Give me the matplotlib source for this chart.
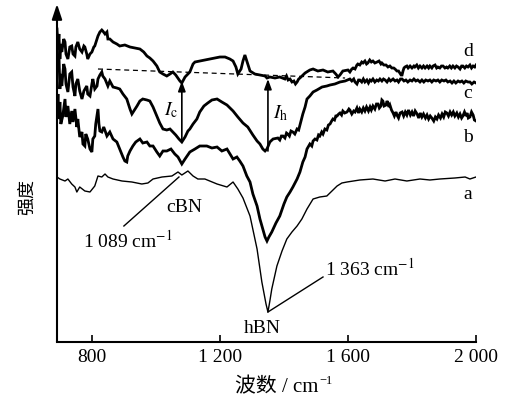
import matplotlib
matplotlib.use("Agg")
import matplotlib.pyplot as plt

plt.rcParams['mathtext.fontset'] = 'stix'
plt.rcParams['font.family'] = ['Liberation Serif', 'Noto Sans CJK SC', 'DejaVu Sans']

# (wavenumber cm-1, intensity arb. units)
a_pts = [(691,165),(700,163),(716,161),(725,163),(737,158),(747,155),(753,150),(762,155),(778,151),(794,150),
         (809,156),(819,166),(831,165),(841,168),(850,165),(866,163),(894,161),(925,160),(956,158),(975,159),
         (991,163),(1019,165),(1050,166),(1069,170),(1081,167),(1100,171),(1116,166),(1131,163),(1153,163),
         (1191,158),(1222,155),(1241,160),(1256,153),(1272,144),(1294,126),(1316,93),(1331,60),(1344,38),
         (1350,30),(1356,41),(1362,53),(1378,76),(1394,91),(1409,103),(1425,110),(1441,116),(1456,123),
         (1472,133),(1491,143),(1512,145),(1534,146),(1550,151),(1566,156),(1581,159),(1597,160),(1637,162),
         (1678,163),(1716,161),(1747,163),(1784,161),(1825,163),(1856,162),(1887,163),(1934,164),(1966,165),
         (1981,163),(2000,165)]

b_pts = [(691,228),(694,248),(697,223),(700,240),(703,218),(709,226),(716,243),(719,225),(725,236),(731,218),
         (737,231),(741,220),(747,233),(753,215),(756,223),(762,205),(769,210),(772,198),(778,196),(781,208),
         (787,203),(794,193),(800,190),(803,203),(809,206),(812,218),(819,233),(822,218),(825,211),(831,210),
         (837,215),(847,206),(856,210),(866,203),(878,200),(887,193),(897,185),(903,181),(909,180),(912,186),
         (919,191),(928,196),(937,200),(950,203),(959,199),(972,200),(981,196),(991,196),(1003,190),(1012,186),
         (1022,191),(1034,191),(1047,193),(1059,188),(1069,185),(1081,178),(1091,183),(1106,190),(1122,193),
         (1137,196),(1159,196),(1175,194),(1191,195),(1206,191),(1222,193),(1241,183),(1253,185),(1262,181),
         (1272,176),(1284,166),(1294,160),(1303,148),(1316,136),(1325,123),(1334,113),(1341,105),(1347,101),
         (1353,105),(1362,110),(1375,119),(1387,126),(1400,138),(1409,145),(1419,150),(1428,155),(1441,163),
         (1450,170),(1459,180),(1466,185),(1472,193),
         (1481,198),(1487,196),(1491,201),(1497,203),(1503,202),(1508,207),(1512,206),(1518,210),(1522,208),
         (1528,213),(1534,212),(1539,217),(1544,218),(1549,221),(1553,223),(1558,222),(1562,226),(1566,226),
         (1571,228),(1575,229),(1580,227),(1584,231),(1590,229),(1597,230),
         (1603,233),(1606,232),(1612,228),(1618,231),(1622,230),(1628,234),(1633,229),(1637,233),(1643,230),
         (1648,234),(1653,231),(1658,235),(1664,231),(1669,235),(1673,232),(1678,236),(1684,233),(1689,238),
         (1694,238),(1698,234),(1703,236),(1706,242),(1709,241),(1713,236),(1719,237),(1722,241),(1725,239),
         (1728,235),(1731,237),(1736,232),(1741,229),(1745,226),(1750,230),(1753,227),(1758,224),(1763,229),
         (1769,230),(1774,226),(1779,230),(1784,227),(1789,232),(1795,227),(1800,230),(1805,226),(1810,231),
         (1816,228),(1821,224),(1826,229),(1831,225),(1836,228),(1842,224),(1847,227),(1852,223),(1857,226),
         (1862,224),(1868,221),(1873,225),(1878,223),(1883,227),(1889,224),(1894,228),(1899,225),(1904,230),
         (1909,229),(1914,226),(1919,230),(1924,227),(1929,230),(1934,226),(1940,229),(1945,225),(1950,228),
         (1955,224),(1959,226),(1964,230),(1969,226),(1972,229),(1976,224),(1981,225),(1986,230),(1991,227),
         (1995,222),(2000,221)]

c_pts = [(691,298),(694,273),(697,288),(700,253),(703,268),(706,256),(712,278),(716,273),(719,258),(725,250),
         (731,268),(737,270),(741,255),(747,246),(750,258),(756,263),(762,251),(769,243),(775,251),(784,256),
         (787,248),(794,246),(800,258),(803,263),(809,253),(816,256),(819,263),(825,267),(831,270),(834,266),
         (841,263),(850,256),(856,261),(866,255),(878,254),(887,253),(897,248),(909,243),(919,233),(925,228),
         (931,231),(941,236),(950,241),(959,243),(972,242),(981,241),(991,235),(1003,226),(1012,219),(1022,213),
         (1034,212),(1044,213),(1053,210),(1062,207),(1072,203),(1081,200),(1091,205),(1100,211),(1106,213),
         (1116,218),(1128,223),(1137,230),(1150,236),(1162,239),(1175,242),(1191,243),(1206,240),(1222,237),
         (1241,231),(1256,225),(1272,219),(1287,215),(1303,207),(1316,201),(1325,198),(1334,193),(1341,191),
         (1347,193),(1356,200),(1366,203),
         (1381,204),(1387,202),(1392,206),(1397,206),(1403,204),(1408,209),(1412,208),(1417,206),(1422,211),
         (1428,210),(1434,208),(1441,213),(1446,212),(1450,217),
         (1459,228),(1466,235),(1472,243),(1481,246),(1491,250),(1503,252),(1519,255),(1534,256),(1544,257),
         (1559,258),(1575,260),(1591,261),
         (1606,263),(1612,261),(1618,263),(1622,260),(1628,258),(1633,262),(1637,262),(1643,260),(1648,263),
         (1653,260),(1659,262),(1664,259),(1669,262),(1673,261),(1678,263),(1684,260),(1690,262),(1695,261),
         (1700,263),(1706,261),(1711,263),(1716,262),(1722,260),(1728,263),(1733,261),(1741,263),(1747,261),
         (1753,262),(1758,260),(1764,263),(1769,263),(1775,261),(1781,262),(1787,260),(1794,262),(1800,261),
         (1806,263),(1812,261),(1818,262),(1825,260),(1831,262),(1837,260),(1843,262),(1850,261),(1856,262),
         (1862,260),(1868,262),(1875,261),(1881,262),(1887,260),(1893,262),(1900,261),(1906,262),(1912,260),
         (1919,261),(1925,259),(1931,261),(1937,259),(1944,261),(1950,260),(1956,261),(1962,259),(1968,261),
         (1975,260),(1981,260),(1987,258),(1994,260),(2000,259)]

d_pts = [(691,313),(694,293),(697,308),(700,283),(703,298),(706,290),(712,303),(716,300),(719,288),(725,283),
         (731,295),(737,296),(741,288),(747,286),(750,295),(756,300),(762,293),(769,290),(775,296),(778,295),
         (784,288),(787,283),(794,288),(800,290),(806,295),(809,296),(816,303),(819,306),(825,310),(831,312),
         (834,311),(841,308),(847,310),(850,303),(856,303),(866,300),(878,298),(887,296),(903,297),(919,295),
         (934,294),(950,293),(962,290),(972,286),(981,284),(991,281),(1003,276),(1012,270),(1022,268),(1034,266),
         (1044,268),(1053,270),(1062,267),(1075,261),(1081,259),(1091,265),(1100,268),(1106,270),(1116,278),
         (1122,280),(1137,281),(1153,282),(1169,283),(1184,284),(1200,285),(1216,285),(1231,283),(1241,281),
         (1250,275),(1256,268),(1266,273),(1272,281),(1278,287),(1284,281),(1294,271),(1309,268),(1325,267),
         (1341,266),(1347,264),(1356,265),(1372,264),(1387,265),
         (1403,263),(1408,266),(1413,262),(1419,263),(1425,260),(1431,261),(1436,258),(1441,260),(1446,263),
         (1450,264),
         (1466,269),(1481,272),(1491,273),(1506,271),(1522,272),(1537,270),(1553,271),(1562,268),(1569,265),
         (1575,267),(1584,271),
         (1600,272),(1606,270),(1612,273),(1616,274),(1622,273),(1628,277),(1631,278),(1637,277),(1643,280),
         (1647,279),(1653,281),(1658,278),(1662,279),(1668,282),(1673,280),(1678,281),(1684,279),(1691,280),
         (1697,281),(1703,278),(1706,279),(1712,277),(1719,277),(1725,275),(1731,276),(1737,274),(1743,274),
         (1747,273),(1753,271),(1758,271),(1762,269),(1766,267),(1769,267),(1772,271),(1775,274),(1778,275),
         (1784,276),(1788,274),(1794,276),(1800,274),(1806,276),(1809,275),(1815,277),(1820,274),(1825,276),
         (1831,274),(1836,276),(1841,274),(1847,276),(1852,274),(1856,276),(1862,274),(1866,276),(1872,277),
         (1877,274),(1881,275),(1887,274),(1892,276),(1897,276),(1903,274),(1908,275),(1912,274),(1918,276),
         (1923,274),(1928,276),(1934,274),(1939,276),(1944,275),(1950,273),(1955,276),(1959,276),(1965,274),
         (1970,276),(1975,275),(1981,277),(1986,274),(1991,276),(1996,275),(2000,277)]

base_x = [819, 1591]
base_y = [273, 264]

xticks = [800, 1200, 1600, 2000]
xticklabels = ['800', '1 200', '1 600', '2 000']
curve_labels = ['a', 'b', 'c', 'd']
label_y = [148, 205, 249, 291]

W, H = 510, 406
fig = plt.figure(figsize=(W/100, H/100), dpi=100)
ax = fig.add_axes([57/W, (406-343)/H, (476-57)/W, (343-5)/H])

def xy(pts):
    return [p[0] for p in pts], [p[1] for p in pts]

ax.plot(*xy(a_pts), color='black', lw=1.0)
for pts in (b_pts, c_pts, d_pts):
    ax.plot(*xy(pts), color='black', lw=2.0, solid_joinstyle='miter')
ax.plot(base_x, base_y, color='black', lw=0.9, dashes=(4, 3))

ax.set_xlim(691, 2000)
ax.set_ylim(0, 338)

for s in ['top', 'right', 'left']:
    ax.spines[s].set_visible(False)
ax.spines['bottom'].set_linewidth(1.5)
ax.set_yticks([])
ax.set_xticks(xticks)
ax.set_xticklabels(xticklabels, fontsize=14)
ax.tick_params(axis='x', direction='in', length=5, width=1.2, pad=4)

# y axis with arrow
ax.annotate('', xy=(0, 1), xytext=(0, 0), xycoords='axes fraction',
            arrowprops=dict(arrowstyle='-|>,head_length=0.9,head_width=0.3',
                            color='black', lw=1.5, shrinkA=0, shrinkB=0))

# Ic and Ih arrows
for xx, y0, y1 in [(1081, 200, 261), (1350, 191, 263)]:
    ax.annotate('', xy=(xx, y1), xytext=(xx, y0),
                arrowprops=dict(arrowstyle='-|>,head_length=0.6,head_width=0.22',
                                color='black', lw=1.2, shrinkA=0, shrinkB=0))
ax.text(1047, 233, r'$I_{\rm c}$', fontsize=14, ha='center', va='center')
ax.text(1391, 230, r'$I_{\rm h}$', fontsize=14, ha='center', va='center')

# annotations
ax.plot([900, 1072], [116, 165], color='black', lw=1.0)
ax.plot([1350, 1522], [30, 65], color='black', lw=1.0)
ax.text(912, 102, r'1 089 cm$^{-1}$', fontsize=14, ha='center', va='center')
ax.text(1087, 135, 'cBN', fontsize=14, ha='center', va='center')
ax.text(1669, 74, r'1 363 cm$^{-1}$', fontsize=14, ha='center', va='center')
ax.text(1331, 14, 'hBN', fontsize=14, ha='center', va='center')

for lab, yy in zip(curve_labels, label_y):
    ax.text(1975, yy, lab, fontsize=14, ha='center', va='center')

fig.text(27/W, 1-197/H, '强度', rotation=90, fontsize=13, ha='center', va='center',
         family=['Noto Sans CJK SC'])
fig.text(318/W, 1-388/H, '波数 / cm', fontsize=15, ha='right', va='center',
         family=['Liberation Serif', 'Noto Sans CJK SC'])
fig.text(319/W, 1-381/H, '\u22121', fontsize=9, ha='left', va='center',
         family=['Liberation Serif', 'DejaVu Sans'])

fig.savefig('out.png', dpi=100)
